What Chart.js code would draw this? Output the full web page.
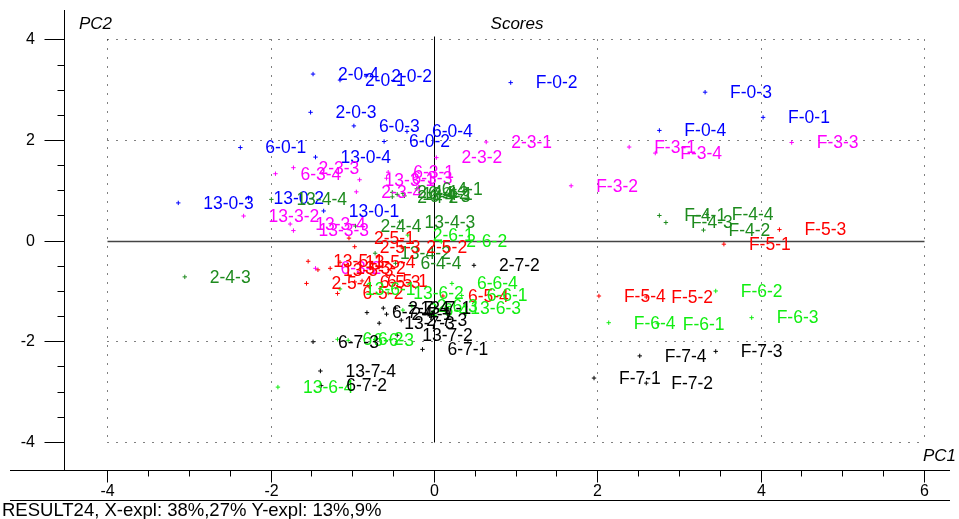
<!DOCTYPE html>
<html>
	<head>
		<meta charset="UTF-8">
		<title>Scores</title>
		<script src="https://cdn.jsdelivr.net/npm/chart.js"></script>
		<style>
			*{margin:0; padding:0;}
			body{background:#fff;}
			canvas{display:block;}
		</style>
	</head>
	<body>
		<canvas id="myChart" width="959" height="519"></canvas>
		<script>
			// sample names and scores (PC1, PC2), one block per group
			const names0 = ['F-0-1','F-0-2','F-0-3','F-0-4','2-0-1','2-0-2','2-0-3','2-0-4','6-0-1','6-0-2','6-0-3','6-0-4','13-0-1','13-0-2','13-0-3','13-0-4'];
			const pc1_0 = [4.03, 0.94, 3.32, 2.76, -1.15, -0.83, -1.51, -1.48, -2.37, -0.61, -0.98, -0.33, -1.35, -2.27, -3.13, -1.45];
			const pc2_0 = [2.45, 3.14, 2.95, 2.19, 3.19, 3.27, 2.55, 3.31, 1.85, 1.97, 2.28, 2.17, 0.59, 0.85, 0.75, 1.66];

			const names3 = ['2-3-1','2-3-2','2-3-3','2-3-4','6-3-1','6-3-2','6-3-3','6-3-4','13-3-1','13-3-2','13-3-3','13-3-4','F-3-1','F-3-2','F-3-3','F-3-4'];
			const pc1_3 = [0.64, 0.03, -1.72, -0.95, -0.56, -1.45, -0.58, -1.94, -0.91, -2.33, -1.72, -1.76, 2.39, 1.68, 4.38, 2.71];
			const pc2_3 = [1.96, 1.65, 1.45, 0.97, 1.36, -0.55, 1.24, 1.33, 1.21, 0.49, 0.20, 0.33, 1.86, 1.09, 1.95, 1.74];

			const names4 = ['2-4-1','2-4-2','2-4-3','2-4-4','6-4-1','6-4-2','6-4-3','6-4-4','13-4-1','13-4-2','13-4-3','13-4-4','F-4-1','F-4-2','F-4-3','F-4-4'];
			const pc1_4 = [-0.51, -0.51, -3.05, -0.96, -0.21, -0.38, -0.36, -0.47, -0.45, -0.72, -0.42, -1.99, 2.76, 3.30, 2.84, 3.34];
			const pc2_4 = [0.96, 0.87, -0.72, 0.29, 1.03, 0.94, 0.89, -0.45, 0.92, -0.25, 0.37, 0.82, 0.50, 0.21, 0.36, 0.52];

			const names5 = ['2-5-1','2-5-2','2-5-3','2-5-4','6-5-1','6-5-2','6-5-3','6-5-4','13-5-1','13-5-2','13-5-3','13-5-4','F-5-1','F-5-2','F-5-3','F-5-4'];
			const pc1_5 = [-1.04, -0.40, -0.97, -1.56, -0.88, -1.18, -0.97, 0.11, -1.54, -1.27, -1.42, -1.15, 3.55, 2.60, 4.23, 2.02];
			const pc2_5 = [0.05, -0.12, -0.12, -0.85, -0.80, -1.05, -0.82, -1.10, -0.41, -0.55, -0.58, -0.43, -0.07, -1.12, 0.22, -1.10];

			const names6 = ['2-6-1','2-6-2','2-6-3','2-6-4','6-6-1','6-6-2','6-6-3','6-6-4','13-6-1','13-6-2','13-6-3','13-6-4','F-6-1','F-6-2','F-6-3','F-6-4'];
			const pc1_6 = [-0.32, 0.09, -0.27, -0.38, 0.34, -1.18, -1.05, 0.22, -1.15, -0.56, 0.14, -1.91, 2.74, 3.45, 3.89, 2.14];
			const pc2_6 = [0.11, -0.02, -1.30, -1.38, -1.09, -1.96, -1.98, -0.85, -0.96, -1.04, -1.35, -2.91, -1.65, -1.00, -1.53, -1.63];

			const names7 = ['2-7-1','2-7-2','2-7-3','2-7-4','6-7-1','6-7-2','6-7-3','6-7-4','13-7-1','13-7-2','13-7-3','13-7-4','F-7-1','F-7-2','F-7-3','F-7-4'];
			const pc1_7 = [-0.58, 0.49, -0.40, -0.62, -0.14, -1.38, -1.48, -0.82, -0.47, -0.45, -0.67, -1.39, 1.96, 2.60, 3.45, 2.52];
			const pc2_7 = [-1.46, -0.49, -1.58, -1.34, -2.16, -2.88, -2.01, -1.43, -1.34, -1.88, -1.64, -2.59, -2.73, -2.83, -2.20, -2.29];

			// axis ticks
			const xTicks = [-4, -2, 0, 2, 4, 6];
			const yTicks = [4, 2, 0, -2, -4];
			const footer = 'RESULT24, X-expl: 38%,27% Y-expl: 13%,9%';

			const groups = [
				[names0, pc1_0, pc2_0, '#0000ff'],
				[names3, pc1_3, pc2_3, '#ff00ff'],
				[names4, pc1_4, pc2_4, '#1e8b1e'],
				[names5, pc1_5, pc2_5, '#ff0000'],
				[names6, pc1_6, pc2_6, '#11ee11'],
				[names7, pc1_7, pc2_7, '#000000']
			];

			const datasets = groups.map(function(g){
				return {
					labels: g[0],
					data: g[1].map(function(v, i){ return {x: v, y: g[2][i]}; }),
					borderColor: g[3],
					backgroundColor: g[3],
					pointStyle: 'cross',
					pointRadius: 2.2,
					borderWidth: 1
				};
			});

			const FONT = '"Liberation Sans", Arial, sans-serif';

			// axes, grid and titles drawn from the scales
			const frame = {
				id: 'frame',
				beforeDatasetsDraw(chart){
					const ctx = chart.ctx;
					const a = chart.chartArea;
					const xs = chart.scales.x, ys = chart.scales.y;
					const px = function(v){ return Math.round(xs.getPixelForValue(v)) + 0.5; };
					const py = function(v){ return Math.round(ys.getPixelForValue(v)) + 0.5; };
					const xl = px(xTicks[0]), xr = px(xTicks[xTicks.length-1]);
					const yt = py(yTicks[0]), yb = py(yTicks[yTicks.length-1]);
					ctx.save();
					ctx.strokeStyle = '#000';
					ctx.lineWidth = 1;

					// dotted grid
					ctx.setLineDash([1, 8]);
					ctx.beginPath();
					xTicks.forEach(function(v){
						if(v === 0) return;
						ctx.moveTo(px(v), yt); ctx.lineTo(px(v), yb);
					});
					yTicks.forEach(function(v){
						if(v === 0) return;
						ctx.moveTo(xl, py(v)); ctx.lineTo(xr, py(v));
					});
					ctx.stroke();
					ctx.setLineDash([]);

					// zero lines
					ctx.beginPath();
					ctx.moveTo(px(0), yt - 3); ctx.lineTo(px(0), yb);
					ctx.stroke();
					ctx.strokeStyle = '#444';
					ctx.lineWidth = 1.6;
					ctx.beginPath();
					ctx.moveTo(xl, py(0)); ctx.lineTo(xr, py(0));
					ctx.stroke();
					ctx.strokeStyle = '#000';
					ctx.lineWidth = 1;

					// axis lines
					const ax = Math.round(a.left) + 0.5, ay = Math.round(a.bottom) + 0.5;
					ctx.beginPath();
					ctx.moveTo(ax, a.top); ctx.lineTo(ax, ay);
					ctx.moveTo(10, ay); ctx.lineTo(950, ay);
					ctx.moveTo(10, ay + 30); ctx.lineTo(950, ay + 30);
					// ticks every 0.5, long ones at labels
					for(let v = yTicks[yTicks.length-1]; v <= yTicks[0]; v += 0.5){
						const len = (v % 2 === 0) ? 20 : 7;
						ctx.moveTo(ax - len, py(v)); ctx.lineTo(ax, py(v));
					}
					for(let v = xTicks[0]; v <= xTicks[xTicks.length-1]; v += 0.5){
						const len = (v % 2 === 0) ? 12 : 6;
						ctx.moveTo(px(v), ay); ctx.lineTo(px(v), ay + len);
					}
					ctx.stroke();

					// tick labels
					ctx.fillStyle = '#000';
					ctx.font = '16px ' + FONT;
					ctx.textBaseline = 'middle';
					ctx.textAlign = 'right';
					yTicks.forEach(function(v){ ctx.fillText(String(v), 35, py(v)); });
					ctx.textAlign = 'center';
					xTicks.forEach(function(v){ ctx.fillText(String(v), px(v), ay + 21); });

					// titles
					ctx.font = 'italic 17px ' + FONT;
					ctx.textAlign = 'left';
					ctx.fillText('PC2', 79, 24);
					ctx.textAlign = 'center';
					ctx.fillText('Scores', 517, 24);
					ctx.textAlign = 'right';
					ctx.fillText('PC1', 956, 456);
					ctx.font = '18.5px ' + FONT;
					ctx.textAlign = 'left';
					ctx.fillText(footer, 2, 511);
					ctx.restore();
				},
				afterDatasetsDraw(chart){
					// sample names next to each point
					const ctx = chart.ctx;
					ctx.save();
					ctx.font = '17.5px ' + FONT;
					ctx.textAlign = 'left';
					ctx.textBaseline = 'middle';
					chart.data.datasets.forEach(function(ds, di){
						ctx.fillStyle = ds.borderColor;
						chart.getDatasetMeta(di).data.forEach(function(pt, i){
							ctx.fillText(ds.labels[i], pt.x + 25, pt.y + 1);
						});
					});
					ctx.restore();
				}
			};

			const ctx = document.getElementById('myChart');
			new Chart(ctx, {
				type: 'scatter',
				data: { datasets: datasets },
				options: {
					responsive: false,
					animation: false,
					layout: { padding: { left: 64, top: 10, right: 14, bottom: 49 } },
					plugins: { legend: { display: false }, tooltip: { enabled: false } },
					scales: {
						x: { type: 'linear', min: -4.529, max: 6.257, display: false },
						y: { type: 'linear', min: -4.557, max: 4.583, display: false }
					}
				},
				plugins: [frame]
			});
		</script>
	</body>
</html>
